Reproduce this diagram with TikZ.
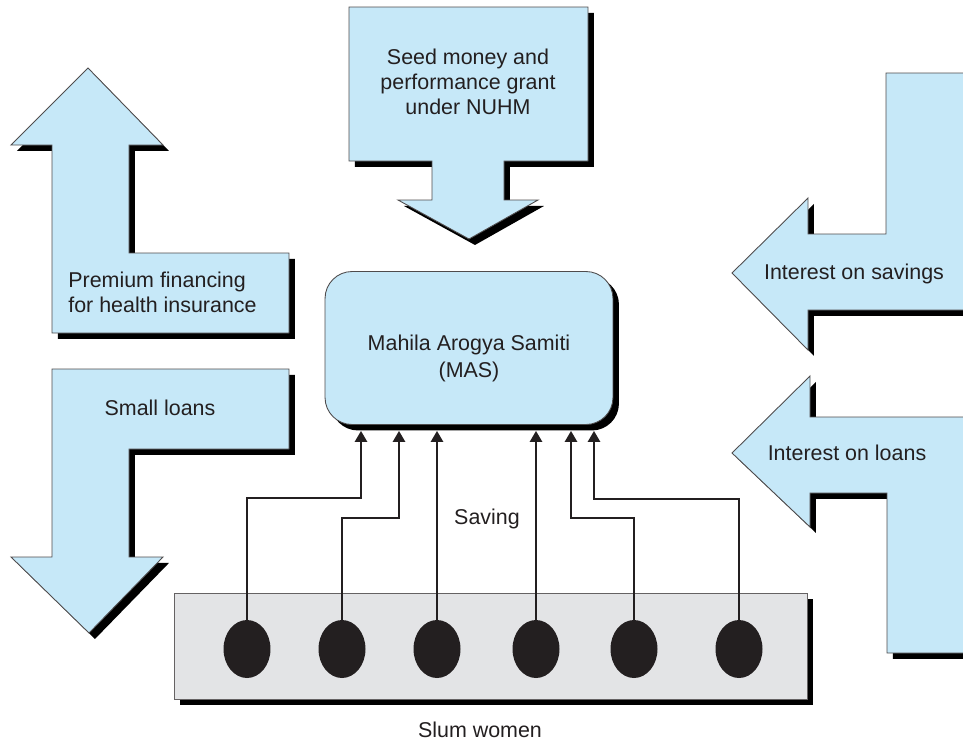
\documentclass[tikz,border=0pt]{standalone}
\usepackage{fontspec}
\setmainfont{Liberation Sans}
\usetikzlibrary{arrows.meta,shapes.geometric,shadows}
\definecolor{flowblue}{RGB}{198,232,248}
\definecolor{rowgray}{RGB}{227,228,230}
\definecolor{inkgray}{RGB}{35,31,32}

\begin{document}
\begin{tikzpicture}[x=0.02cm, y=-0.02cm,
    every node/.style={font=\fontsize{12.2}{14.2}\selectfont, text=inkgray},
    blackshadow/.style={drop shadow={shadow xshift=3.4pt, shadow yshift=-3.4pt, opacity=1, fill=black}},
    flow/.style={fill=flowblue, draw=inkgray!80, line width=0.5pt, blackshadow},
    woman/.style={ellipse, fill=inkgray, minimum width=0.94cm, minimum height=1.16cm, inner sep=0pt},
    saving/.style={line width=1.2pt, draw=inkgray, -{Triangle[length=6.3pt, width=7pt]}, shorten >=3.4pt}]
    \useasboundingbox (0,0) rectangle (963,745);
    \clip (0,0) rectangle (963,745);

    % big flow arrows
    \draw[flow] (88,68) -- (163,145) -- (129,145) -- (129,253) -- (289,253) -- (289,333)
        -- (52,333) -- (52,145) -- (11,145) -- cycle;
    \node[anchor=west, align=left, inner sep=0pt] (premium) at (68,292) {Premium financing\\for health insurance};

    \draw[flow] (52,369) -- (289,369) -- (289,449) -- (129,449) -- (129,557) -- (163,557)
        -- (89,633) -- (11,557) -- (52,557) -- cycle;
    \node (loans) at (160,408) {Small loans};

    \draw[flow] (349,7) -- (588,7) -- (588,161) -- (504,161) -- (504,200) -- (538,200)
        -- (469,239) -- (398,200) -- (432,200) -- (432,161) -- (349,161) -- cycle;
    \node[align=center] (seed) at (468,82) {Seed money and\\performance grant\\under NUHM};

    \draw[flow] (886,73) -- (990,73) -- (990,310) -- (808,310) -- (808,350) -- (732,273)
        -- (808,198) -- (808,234) -- (886,234) -- cycle;
    \node (intsav) at (854,274) {Interest on savings};

    \draw[flow] (810,376) -- (810,417) -- (990,417) -- (990,653) -- (887,653) -- (887,493)
        -- (810,493) -- (810,527) -- (732,453) -- cycle;
    \node (intloan) at (847,453) {Interest on loans};

    % MAS and the women
    \node[flow, rounded corners=0.54cm, minimum width=5.76cm, minimum height=3.06cm, align=center,
        font=\fontsize{12.2}{15.4}\selectfont, text height=36pt]
        (mas) at (469,348) {Mahila Arogya Samiti\\(MAS)};

    \node[fill=rowgray, draw=inkgray!70, line width=0.5pt, blackshadow,
        minimum width=12.66cm, minimum height=2.12cm] (row) at (490.5,646) {};
    \node[woman] (w1) at (247,649) {};
    \node[woman] (w2) at (342,649) {};
    \node[woman] (w3) at (437,649) {};
    \node[woman] (w4) at (536,649) {};
    \node[woman] (w5) at (634,649) {};
    \node[woman] (w6) at (739,649) {};

    % savings going up
    \draw[saving] (w1.north) |- (361,498) -- (361,0 |- mas.south);
    \draw[saving] (w2.north) |- (399,518) -- (399,0 |- mas.south);
    \draw[saving] (w3.north) -- (w3.north |- mas.south);
    \draw[saving] (w4.north) -- (w4.north |- mas.south);
    \draw[saving] (w5.north) |- (571,518) -- (571,0 |- mas.south);
    \draw[saving] (w6.north) |- (594,499) -- (594,0 |- mas.south);

    \node (saving) at (487,519) {Saving};
    \node (slum) at (480,730) {Slum women};
\end{tikzpicture}
\end{document}
